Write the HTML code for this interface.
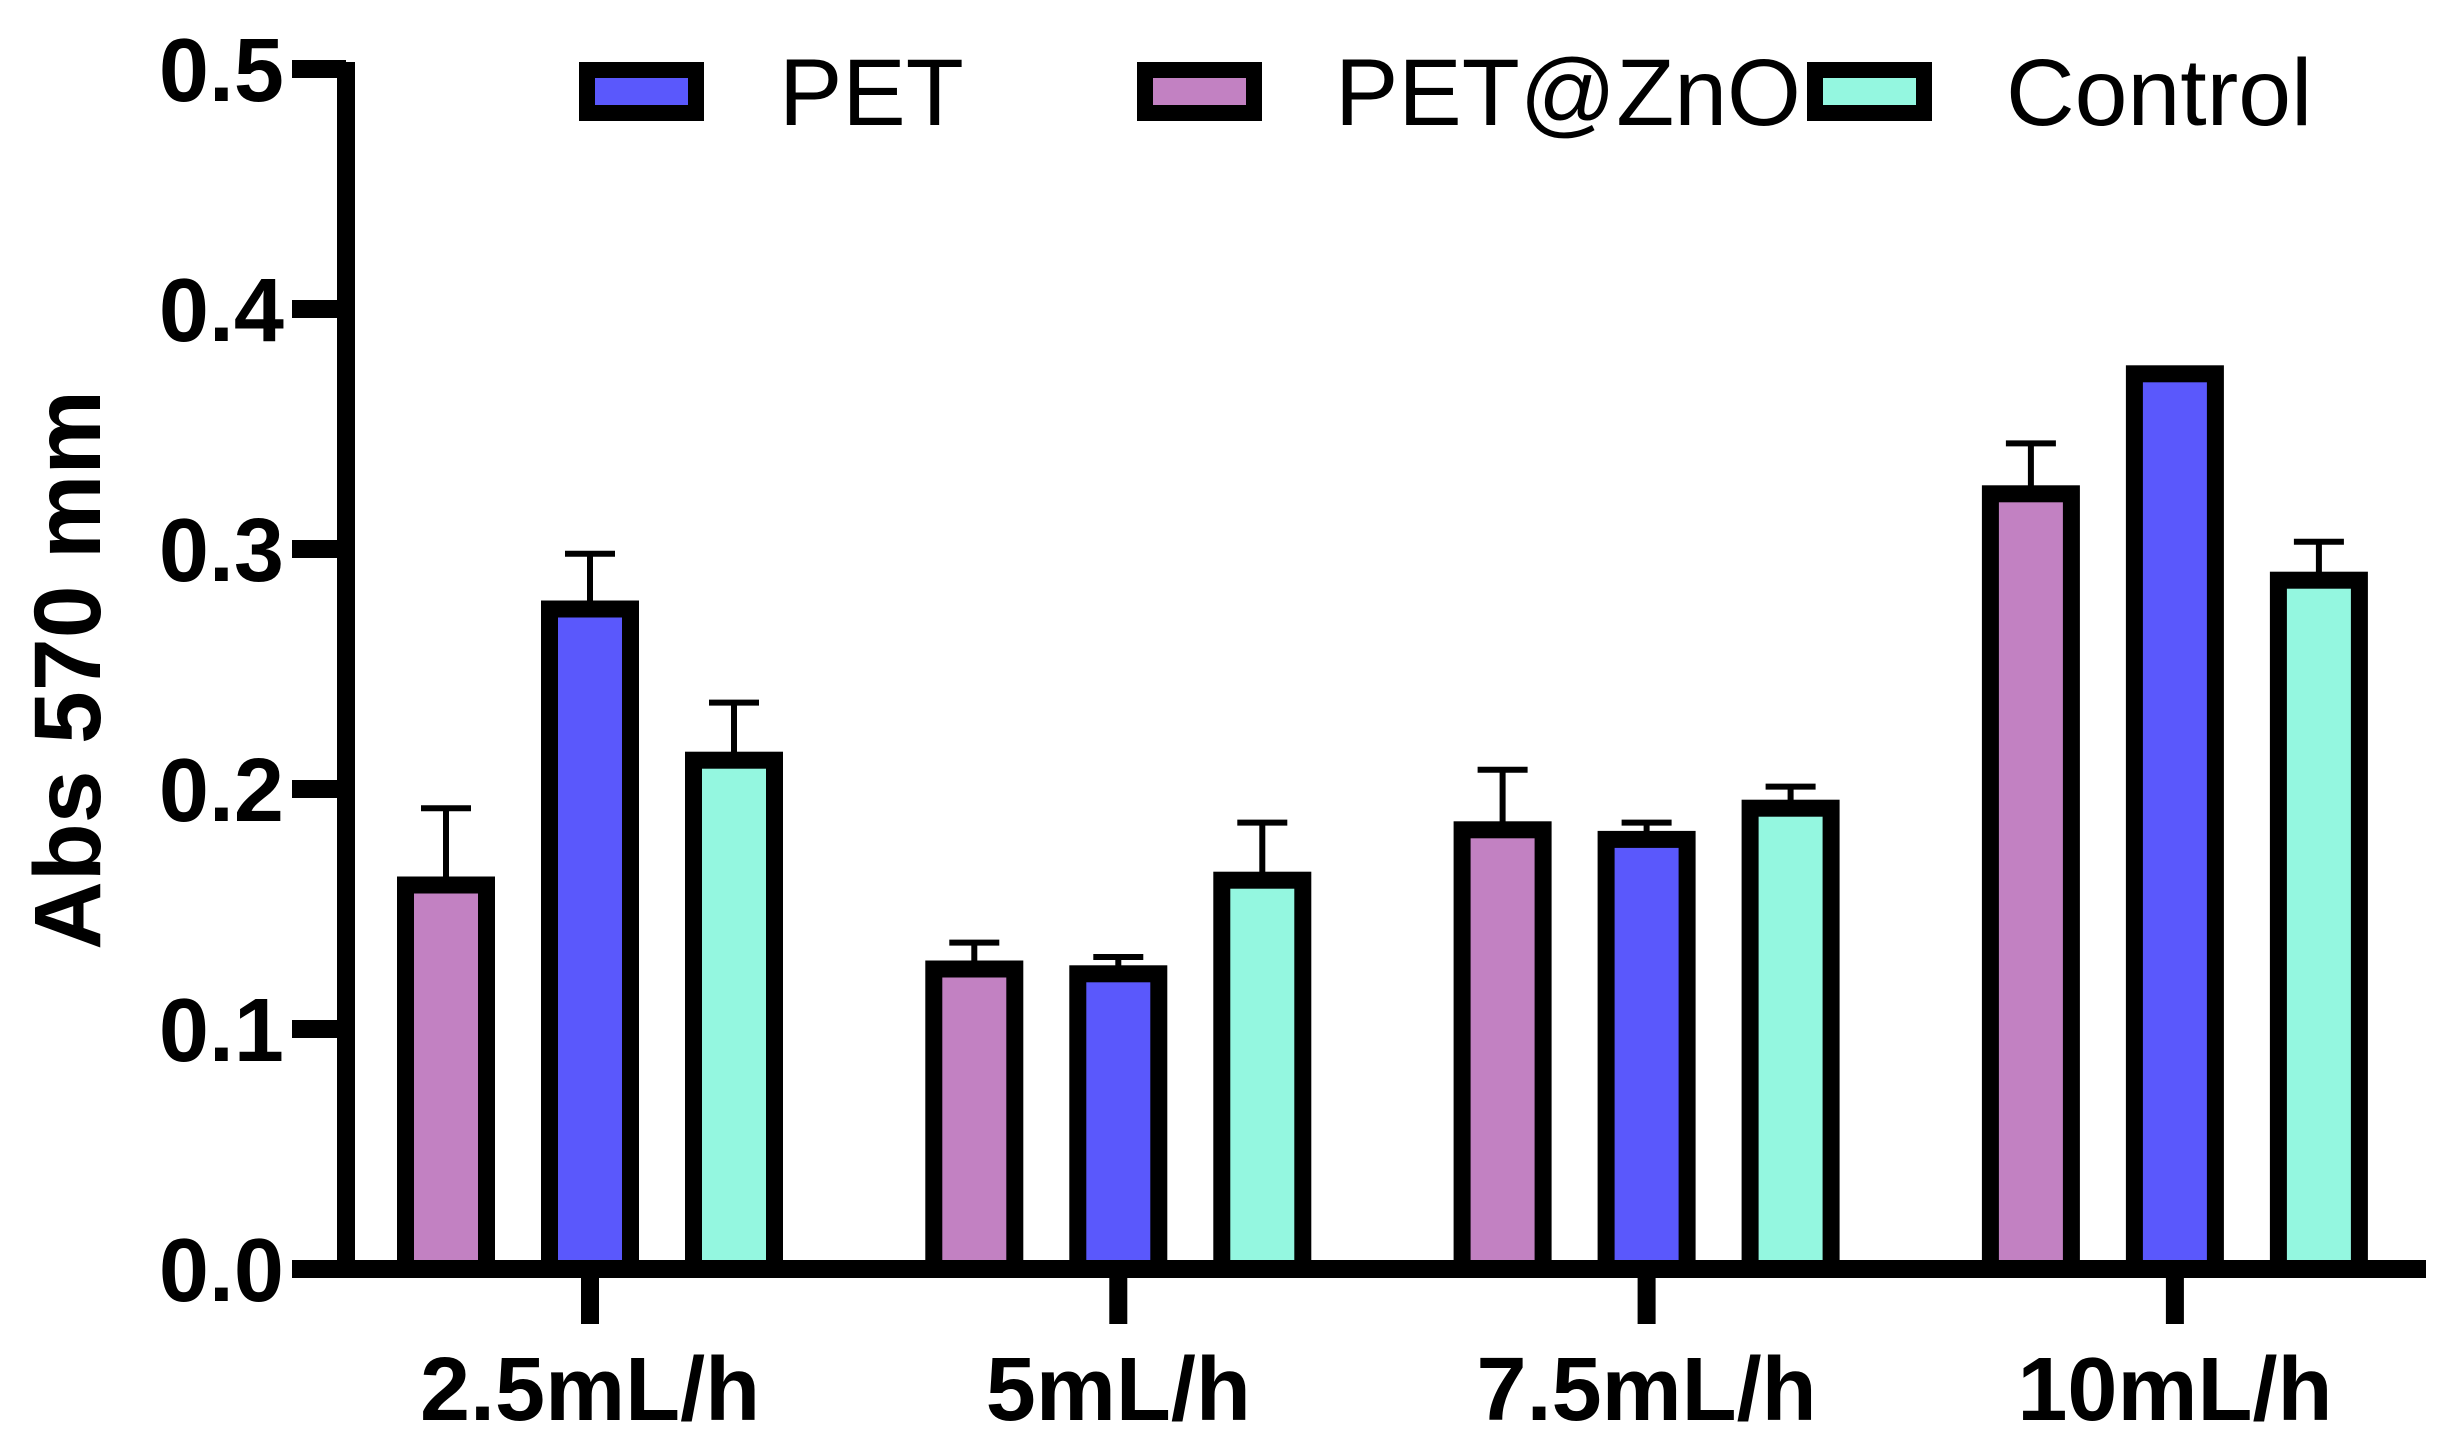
<!DOCTYPE html>
<html><head><meta charset="utf-8"><style>
html,body{margin:0;padding:0;background:#fff}
svg{display:block}
text{font-family:"Liberation Sans",Arial,sans-serif}
</style></head><body>
<svg id="chart" width="2442" height="1448" viewBox="0 0 2442 1448">
<g id="legend"></g>
<g id="plot"></g>
<g id="axes"></g>
</svg>
<script>
const categories = ["2.5mL/h","5mL/h","7.5mL/h","10mL/h"];
const seriesNames = ["PET@ZnO","PET","Control"];
const seriesColors = ["#c281c2","#5a58fc","#94f7e0"];
const petZnO = [0.160, 0.125, 0.183, 0.323];
const pet = [0.275, 0.123, 0.179, 0.373];
const control = [0.212, 0.162, 0.192, 0.287];
const petZnOErr = [0.032, 0.011, 0.025, 0.021];
const petErr = [0.023, 0.007, 0.007, 0.002];
const controlErr = [0.024, 0.024, 0.009, 0.016];
const yTicks = [0.0, 0.1, 0.2, 0.3, 0.4, 0.5];
const yTickLabels = ["0.0","0.1","0.2","0.3","0.4","0.5"];

const NS="http://www.w3.org/2000/svg";
function mk(tag, attrs, parent){const e=document.createElementNS(NS,tag);for(const k in attrs)e.setAttribute(k,attrs[k]);parent.appendChild(e);return e;}
const y0=1269, pxPerUnit=2400, axisX=346;
function yScale(v){return y0 - v*pxPerUnit;}
function xScale(i){return 590 + i*528.3;}
const plot=document.getElementById('plot'), axes=document.getElementById('axes'), legend=document.getElementById('legend');
const vals=[petZnO,pet,control], errs=[petZnOErr,petErr,controlErr];
const offsets=[-144,0,144], barW=81;
for(let s=0;s<3;s++){
  for(let i=0;i<categories.length;i++){
    const cx=xScale(i)+offsets[s], top=yScale(vals[s][i]), et=yScale(vals[s][i]+errs[s][i]);
    const eb=mk('line',{x1:cx,x2:cx,y1:top,y2:et,stroke:'#000','stroke-width':6},plot);
    
    
    const cap=mk('line',{x1:cx-25,x2:cx+25,y1:et,y2:et,stroke:'#000','stroke-width':6},plot);
    
    
    const r=mk('rect',{x:cx-barW/2,y:top,width:barW,height:y0-top,fill:seriesColors[s],stroke:'#000','stroke-width':17},plot);
    
    
  }
}
const ya=mk('line',{x1:axisX,x2:axisX,y1:62,y2:1278,stroke:'#000','stroke-width':18},axes);


const xa=mk('line',{x1:axisX-9,x2:2426,y1:y0,y2:y0,stroke:'#000','stroke-width':18},axes);


yTicks.forEach((v,k)=>{
  const y=yScale(v);
  const t=mk('line',{x1:292,x2:axisX,y1:y,y2:y,stroke:'#000','stroke-width':18},axes);
  
  
  const l=mk('text',{x:284,y:y+32,'text-anchor':'end','font-size':90,'font-weight':'bold'},axes);
  l.textContent=yTickLabels[k];
  
  
});
categories.forEach((c,i)=>{
  const x=xScale(i);
  const t=mk('line',{x1:x,x2:x,y1:y0,y2:1324,stroke:'#000','stroke-width':18},axes);
  
  
  const l=mk('text',{x:x,y:1420,'text-anchor':'middle','font-size':90,'font-weight':'bold'},axes);
  l.textContent=c;
  
  
});
const yt=mk('text',{x:0,y:0,'text-anchor':'middle','font-size':95,'font-weight':'bold',transform:'translate(100,670) rotate(-90)'},axes);
yt.textContent='Abs 570 mm';


const legItems=[{n:'PET',c:seriesColors[1],bx:579,tx:779},{n:'PET@ZnO',c:seriesColors[0],bx:1137,tx:1335},{n:'Control',c:seriesColors[2],bx:1807,tx:2006}];
legItems.forEach(it=>{
  const r=mk('rect',{x:it.bx+8,y:70,width:109,height:43,fill:it.c,stroke:'#000','stroke-width':16},legend);
  
  
  const t=mk('text',{x:it.tx,y:125,'font-size':95},legend);
  t.textContent=it.n;
  
  
});
</script>
</body></html>
